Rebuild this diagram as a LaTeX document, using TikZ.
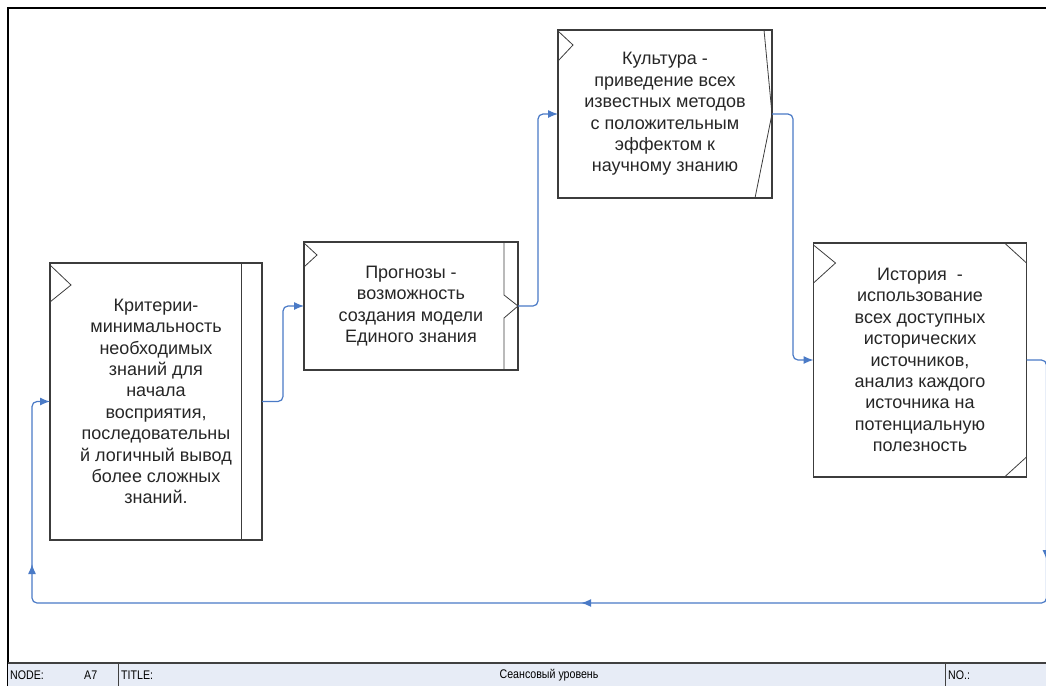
\documentclass[tikz,border=0pt]{standalone}
\usepackage{fontspec}
\setmainfont{Liberation Sans}
\newfontfamily\barfont[FakeStretch=0.85]{Liberation Sans}
\usetikzlibrary{arrows.meta,decorations.markings}
\definecolor{flowblue}{RGB}{74,122,198}
\definecolor{boxgray}{RGB}{60,60,60}
\definecolor{barfill}{RGB}{231,236,246}
\begin{document}
\begin{tikzpicture}
    [x=1pt,y=-1pt,
     func/.style={draw=boxgray,line width=1.3pt,inner sep=0pt,outer sep=0pt,
       align=center,font=\fontsize{18}{21.4}\selectfont,text=black!85},
     deco/.style={draw=boxgray,line width=0.8pt},
     flow/.style={draw=flowblue,line width=1.2pt,rounded corners=5pt,
       -{Latex[length=10pt,width=8pt]}},
     bar/.style={font=\barfont\fontsize{12.5}{14}\selectfont,inner sep=0pt}]
    \useasboundingbox (0,0) rectangle (1046,686);
    % frame
    \draw[line width=1.6pt] (8,686) -- (8,8) -- (1046,8);
    \fill[barfill] (8,663) rectangle (1046,686);
    \draw[line width=1.5pt,black!75] (8,663) -- (1046,663);
    \draw[black!75,line width=0.9pt] (118,663) -- (118,686) (945,663) -- (945,686);
    \node[bar,anchor=west] (nodelbl) at (10,675) {NODE:};
    \node[bar,anchor=west] (nodeno) at (84,675) {A7};
    \node[bar,anchor=west] (titlelbl) at (121,675) {TITLE:};
    \node[bar] (title) at (549,675) {Сеансовый уровень};
    \node[bar,anchor=west] (nolbl) at (948,675) {NO.:};
    % boxes
    \node[func,minimum width=212pt,minimum height=277pt] (k) at (156,401.5)
      {Критерии-\\минимальность\\необходимых\\знаний для\\начала\\восприятия,\\последовательны\\й логичный вывод\\более сложных\\знаний.};
    \node[func,minimum width=214pt,minimum height=128pt] (p) at (411,306)
      {Прогнозы -\\возможность\\создания модели\\Единого знания};
    \node[func,minimum width=214pt,minimum height=168pt] (c) at (665,114)
      {Культура -\\приведение всех\\известных методов\\с положительным\\эффектом к\\научному знанию};
    \node[func,minimum width=213pt,minimum height=234pt] (h) at (920,360)
      {История \ -\\использование\\всех доступных\\исторических\\источников,\\анализ каждого\\источника на\\потенциальную\\полезность};
    % corner marks
    \draw[deco] (k.north west) ++(0,2) -- ++(21,20) -- ++(-21,17);
    \draw[deco] (p.north west) ++(0,1) -- ++(13,12) -- ++(-13,12);
    \draw[deco] (c.north west) ++(0,1) -- ++(15,14) -- ++(-15,16);
    \draw[deco] (h.north west) ++(0,2) -- ++(22,18) -- ++(-22,20);
    \draw[deco] ([xshift=-21pt]k.north east) -- ([xshift=-21pt]k.south east);
    \draw[deco] ([xshift=-14pt]p.north east) -- ++(0,53) -- (p.east) -- ++(-14,12)
      -- ([xshift=-14pt]p.south east);
    \draw[deco] ([xshift=-8pt]c.north east) -- (c.east) -- ([xshift=-17pt]c.south east);
    \draw[deco] (h.north east) ++(-22,0) -- ++(22,20);
    \draw[deco] (h.south east) ++(-22,0) -- ++(22,-20);
    % arrows
    \draw[flow] (k.east) -- ++(21,0) |- (p.west);
    \draw[flow] (p.east) -- ++(20,0) |- (c.west);
    \draw[flow] (c.east) -- ++(21,0) |- (h.west);
    \coordinate (lb) at (32,603);
    \draw[flow,postaction={decorate,decoration={markings,
        mark=at position 218pt with {\arrow{Latex[length=10pt,width=8pt]}},
        mark=at position 724pt with {\arrow{Latex[length=10pt,width=8pt]}},
        mark=at position 1310pt with {\arrow{Latex[length=10pt,width=8pt]}}}}]
      (h.east) -- ++(20,0) |- (lb) |- (k.west);
\end{tikzpicture}
\end{document}
